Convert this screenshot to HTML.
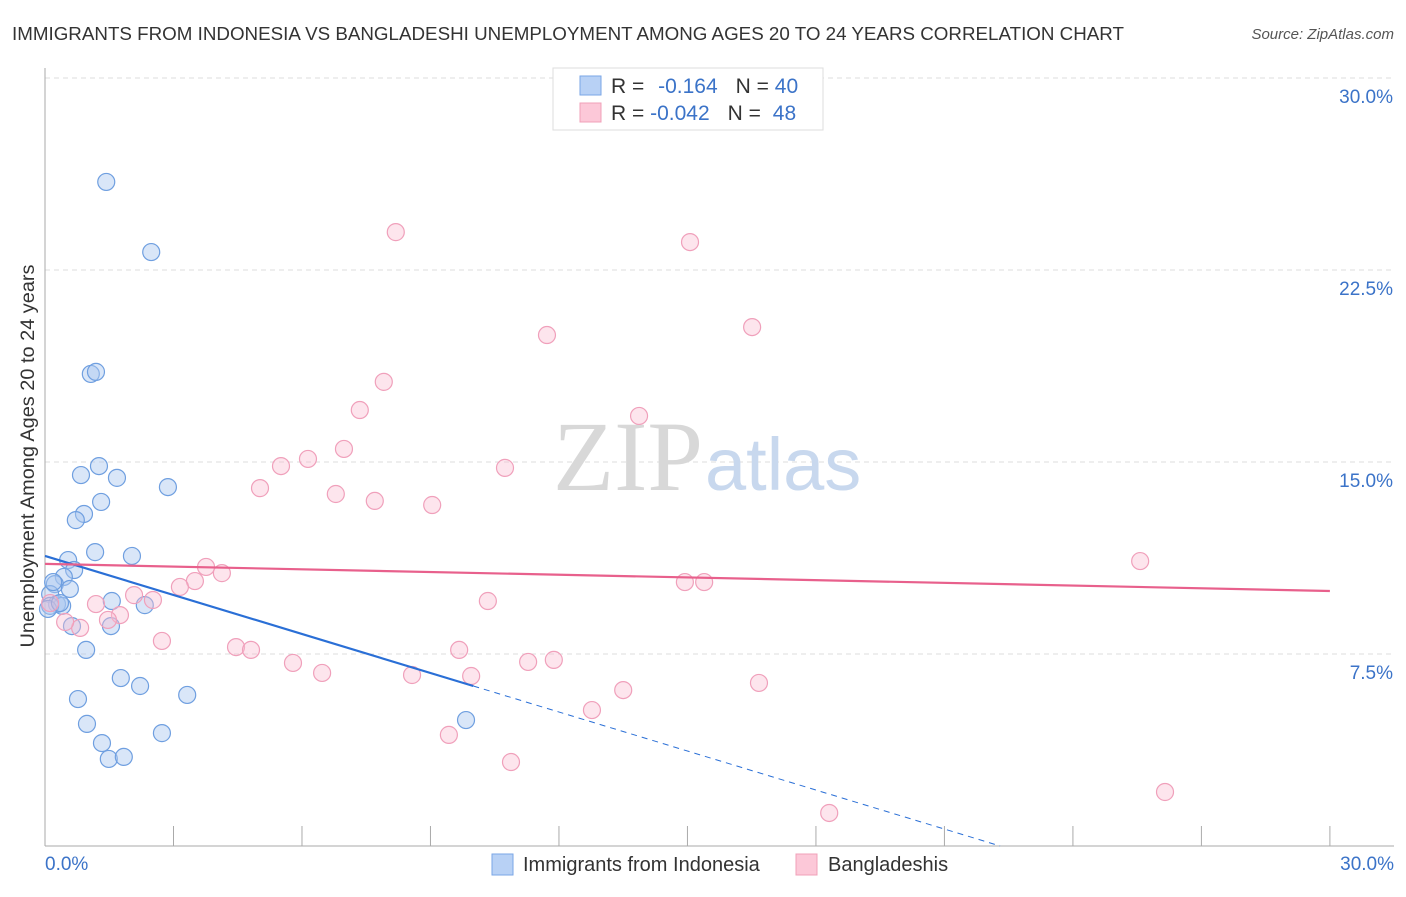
<!DOCTYPE html>
<html><head><meta charset="utf-8"><style>
body{margin:0;background:#fff;font-family:"Liberation Sans",sans-serif}
svg text{font-family:"Liberation Sans",sans-serif}
</style></head><body>
<svg width="1406" height="892" id="chart">
<text x="12" y="40" font-size="18" fill="#333" textLength="1112" lengthAdjust="spacingAndGlyphs">IMMIGRANTS FROM INDONESIA VS BANGLADESHI UNEMPLOYMENT AMONG AGES 20 TO 24 YEARS CORRELATION CHART</text>
<text x="1394" y="39" font-size="15" fill="#555" font-style="italic" text-anchor="end">Source: ZipAtlas.com</text>
<text x="34" y="456" font-size="19" fill="#333" text-anchor="middle" textLength="383" lengthAdjust="spacingAndGlyphs" transform="rotate(-90 34 456)">Unemployment Among Ages 20 to 24 years</text>
<g id="grid"></g>
<text x="553" y="490" font-size="100" fill="#ddd"><tspan fill="#d8d8d8" font-family="Liberation Serif">ZIP</tspan><tspan fill="#c8d8ee" font-size="74" font-family="Liberation Sans" dx="2">atlas</tspan></text>
<g id="pts"></g>
<g id="lines"></g>
<g>
<rect x="553" y="68" width="270" height="62" fill="#fff" stroke="#ddd"/>
<rect x="580" y="76" width="21" height="19" fill="#b8d1f5" stroke="#7aa6e6"/>
<rect x="580" y="103" width="21" height="19" fill="#fcc8d8" stroke="#f0a0b8"/>
<text x="611" y="93" font-size="21" fill="#333">R = <tspan fill="#3b73c8" dx="8">-0.164</tspan><tspan dx="18" fill="#333">N = </tspan><tspan fill="#3b73c8">40</tspan></text>
<text x="611" y="120" font-size="21" fill="#333">R = <tspan fill="#3b73c8">-0.042</tspan><tspan dx="18" fill="#333">N = </tspan><tspan fill="#3b73c8" dx="6">48</tspan></text>
</g>
<g>
<rect x="492" y="854" width="21" height="21" fill="#b8d1f5" stroke="#7aa6e6"/>
<text x="523" y="871" font-size="20" fill="#333">Immigrants from Indonesia</text>
<rect x="796" y="854" width="21" height="21" fill="#fcc8d8" stroke="#f0a0b8"/>
<text x="828" y="871" font-size="20" fill="#333">Bangladeshis</text>
</g>
</svg>
<script>
const yTicks=[7.5,15,22.5,30];
const yTickLabels=["7.5%","15.0%","22.5%","30.0%"];
const xTickLabels=["0.0%","30.0%"];
const blueX=[1.43,2.48,1.07,1.19,0.84,1.26,1.68,2.87,0.91,0.72,1.31,1.17,0.54,2.03,0.68,0.44,0.23,0.58,0.12,0.28,0.40,0.12,1.56,2.33,0.63,1.54,0.96,1.77,2.22,3.32,0.77,0.98,2.73,1.33,1.49,1.84,9.83,0.07,0.19,0.35];
const blueY=[25.94,23.20,18.44,18.52,14.49,14.84,14.38,14.02,12.97,12.73,13.44,11.48,11.17,11.33,10.78,10.51,10.23,10.04,9.84,9.45,9.38,9.38,9.57,9.41,8.59,8.59,7.66,6.56,6.25,5.90,5.74,4.77,4.41,4.02,3.40,3.48,4.92,9.26,10.31,9.49];
const pinkX=[8.19,15.06,11.72,16.51,7.91,7.35,13.87,6.98,5.51,6.14,10.74,5.02,6.79,7.70,9.04,25.57,3.76,4.13,3.50,3.15,2.08,2.52,1.19,1.75,1.47,0.82,0.47,2.73,4.46,4.81,5.79,6.47,10.34,9.67,11.28,11.88,8.57,9.95,14.94,15.39,16.67,13.50,12.77,9.43,10.88,26.15,18.31,0.12];
const pinkY=[23.98,23.59,19.96,20.27,18.13,17.03,16.80,15.51,14.84,15.12,14.77,13.98,13.75,13.48,13.32,11.13,10.90,10.66,10.35,10.12,9.80,9.61,9.45,9.02,8.83,8.52,8.75,8.01,7.77,7.66,7.15,6.76,9.57,7.66,7.19,7.27,6.68,6.64,10.31,10.31,6.37,6.09,5.31,4.34,3.28,2.11,1.29,9.49];
const blueTrend=[11.33,-0.508];const pinkTrend=[11.02,-0.0353];
const NS="http://www.w3.org/2000/svg";
const X=v=>45+v*42.83, Y=v=>846-v*25.6;
function mk(t,a,p){const e=document.createElementNS(NS,t);for(const k in a)e.setAttribute(k,a[k]);p.appendChild(e);return e;}
const grid=document.getElementById('grid');
yTicks.forEach((t,i)=>{
 const l=mk('line',{x1:45,x2:1394,y1:Y(t),y2:Y(t),stroke:'#ddd','stroke-dasharray':'5,4'},grid);
 
 
 const tx=mk('text',{x:1393,y:Y(t)+25,'font-size':19,fill:'#3b73c8','text-anchor':'end'},grid);tx.textContent=yTickLabels[i];
 
 
});
mk('line',{x1:45,x2:45,y1:68,y2:846,stroke:'#aaa'},grid);
mk('line',{x1:45,x2:1394,y1:846,y2:846,stroke:'#aaa'},grid);
for(let i=1;i<=10;i++){const t=mk('line',{x1:X(i*3),x2:X(i*3),y1:826,y2:846,stroke:'#aaa'},grid);}
[[0,'start',45],[30,'end',1394]].forEach((d,i)=>{const tx=mk('text',{x:d[2],y:870,'font-size':19,fill:'#3b73c8','text-anchor':d[1]},grid);tx.textContent=xTickLabels[i];
 
 });
const pts=document.getElementById('pts');
blueX.forEach((x,i)=>{const c=mk('circle',{cx:X(x),cy:Y(blueY[i]),r:8.5,fill:'rgba(170,200,240,0.45)',stroke:'#6f9fe0','stroke-width':1.2},pts);
 
 });
pinkX.forEach((x,i)=>{const c=mk('circle',{cx:X(x),cy:Y(pinkY[i]),r:8.5,fill:'rgba(250,190,210,0.4)',stroke:'#f0a0bb','stroke-width':1.2},pts);
 
 });
const ln=document.getElementById('lines');
const f=(t,x)=>t[0]+t[1]*x;
let a=mk('line',{x1:X(0),y1:Y(f(blueTrend,0)),x2:X(10),y2:Y(f(blueTrend,10)),stroke:'#2a6fd6','stroke-width':2.2},ln);


let b=mk('line',{x1:X(10),y1:Y(f(blueTrend,10)),x2:X(22.3),y2:Y(f(blueTrend,22.3)),stroke:'#2a6fd6','stroke-width':1,'stroke-dasharray':'6,5'},ln);


let c=mk('line',{x1:X(0),y1:Y(f(pinkTrend,0)),x2:X(30),y2:Y(f(pinkTrend,30)),stroke:'#e8608c','stroke-width':2.2},ln);


</script>
</body></html>
